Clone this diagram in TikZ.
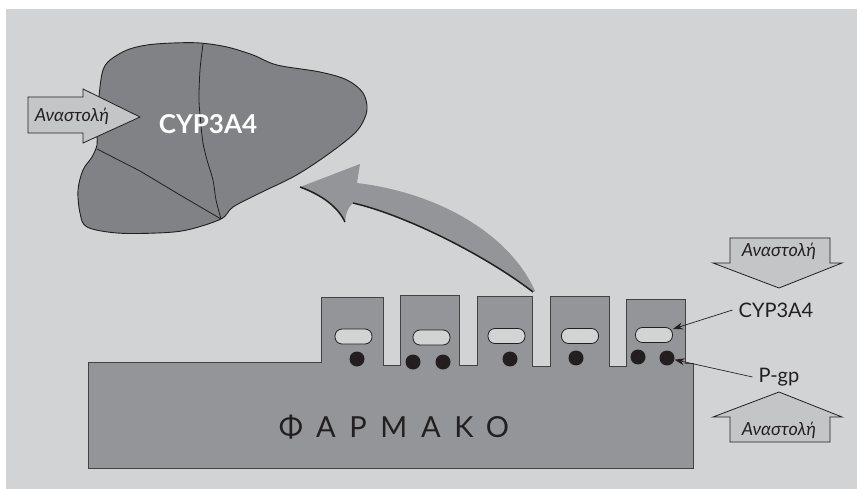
\documentclass[tikz,border=0pt]{standalone}
\usepackage{fontspec}
\setmainfont{Lato}
\usepackage{xcolor}
\usepackage{tikz}
\usetikzlibrary{arrows.meta,positioning}
\definecolor{paper}{HTML}{D1D3D4}
\definecolor{tissue}{HTML}{939598}
\definecolor{liverg}{HTML}{808285}
\definecolor{inhib}{HTML}{C4C5C7}
\definecolor{ink}{HTML}{231F20}
\tikzset{
  wall/.style={fill=tissue, draw=ink!85, line width=0.8pt},
  organ/.style={fill=liverg, draw=ink, line width=0.9pt},
  seam/.style={draw=ink, line width=0.8pt},
  blockarr/.style={fill=inhib, draw=ink, line width=0.8pt},
  enzyme/.style={rectangle, rounded corners=7pt, draw=ink, fill=paper, line width=0.8pt,
    minimum width=37pt, minimum height=15pt, inner sep=0pt},
  pump/.style={circle, fill=ink, minimum size=15pt, inner sep=0pt},
  ptr/.style={-{Stealth[length=10pt,width=7pt]}, line width=0.7pt, draw=ink},
  tag/.style={font=\fontsize{20}{22}\selectfont, text=ink, inner xsep=6pt, inner ysep=1pt},
  inh/.style={font=\itshape\fontsize{18}{20}\selectfont, text=ink, inner sep=0pt},
}

\begin{document}
\begin{tikzpicture}[x=1pt,y=-1pt]
  \useasboundingbox (0,0) rectangle (857,489);
  \fill[paper] (6,9) rectangle (857,489);

  % liver with its lobe seams
  \draw[organ] plot[smooth cycle, tension=0.55] coordinates {
    (103,70) (110,60) (127,50) (147,45) (173,43) (200,43) (227,47) (253,55) (277,65)
    (320,72) (347,80) (363,93) (367,110) (360,127) (347,140) (320,160) (293,177)
    (260,193) (233,207) (221,219) (187,230) (157,233) (117,233) (87,227) (80,213)
    (78,190) (83,170) (92,157) (97,145) (97,133) (98,110) (100,87)};
  \draw[seam] plot[smooth, tension=0.5] coordinates {
    (203,44) (200,70) (199,100) (201,125) (203,143) (207,160) (213,180) (216,200) (221,219)};
  \draw[seam] (97,149) -- (140,171) -- (180,195) -- (221,219);

  \draw[blockarr] (28,97) -- (83,97) -- (83,89) -- (140,117) -- (83,143) -- (83,133) -- (28,133) -- cycle;
  \node[inh] (lvInh) at (72,116) {Αναστολή};
  \node[font=\bfseries\fontsize{26}{28}\selectfont, text=white] (lvCyp) at (208,124) {CYP3A4};

  % curved transport arrow from the gut wall up to the liver
  \fill[tissue] (535,291) .. controls (510,235) and (440,193) .. (357,183)
    -- (360,164) -- (300,187)
    .. controls (322,195) and (338,207) .. (345,222)
    .. controls (346,212) and (349,206) .. (353,203)
    .. controls (405,215) and (485,255) .. (533,292) -- cycle;
  \draw[ink, line width=1.5pt] (300,187) .. controls (322,195) and (338,207) .. (345,222);
  \draw[ink, line width=1.5pt] (353,203) .. controls (405,215) and (485,255) .. (533,292);

  % gut wall with villi
  \draw[wall] (88,362) -- (321,362) -- (321,297) -- (383,297) -- (383,365)
    -- (400,365) -- (400,295) -- (459,295) -- (459,365)
    -- (477,365) -- (477,296) -- (532,296) -- (532,366)
    -- (550,366) -- (550,296) -- (609,296) -- (609,366)
    -- (626,366) -- (626,299) -- (685,299) -- (685,363)
    -- (693,363) -- (693,468) -- (88,468) -- cycle;
  \node[font=\fontsize{29}{32}\selectfont\addfontfeature{LetterSpace=47}, text=ink] (drug) at (394,427) {ΦΑΡΜΑΚΟ};

  \foreach \n/\x/\y in {1/353.5/336.5, 2/431.5/337.5, 3/506.5/336, 4/580/336, 5/654/335}
    \node[enzyme] (e\n) at (\x,\y) {};
  \foreach \n/\x/\y in {1/357/359, 2/413/362, 3/443/362, 4/510/359, 5/576/358, 6/638/357, 7/667/358}
    \node[pump] (p\n) at (\x,\y) {};

  % inhibition arrows and labels on the right
  \draw[blockarr] (730,238) -- (830,238) -- (830,263) -- (842,263) -- (779,288) -- (713,263) -- (730,263) -- cycle;
  \node[inh] (inhTop) at (779,251) {Αναστολή};
  \node[tag] (cypTag) at (776,310) {CYP3A4};
  \node[tag] (pgpTag) at (779,377) {P-gp};
  \draw[blockarr] (730,442) -- (830,442) -- (830,417) -- (842,417) -- (779,392) -- (713,417) -- (730,417) -- cycle;
  \node[inh] (inhBot) at (779,430) {Αναστολή};

  \draw[ptr] (cypTag.west) -- (e5);
  \draw[ptr] (pgpTag.west) -- (p7);
\end{tikzpicture}
\end{document}
